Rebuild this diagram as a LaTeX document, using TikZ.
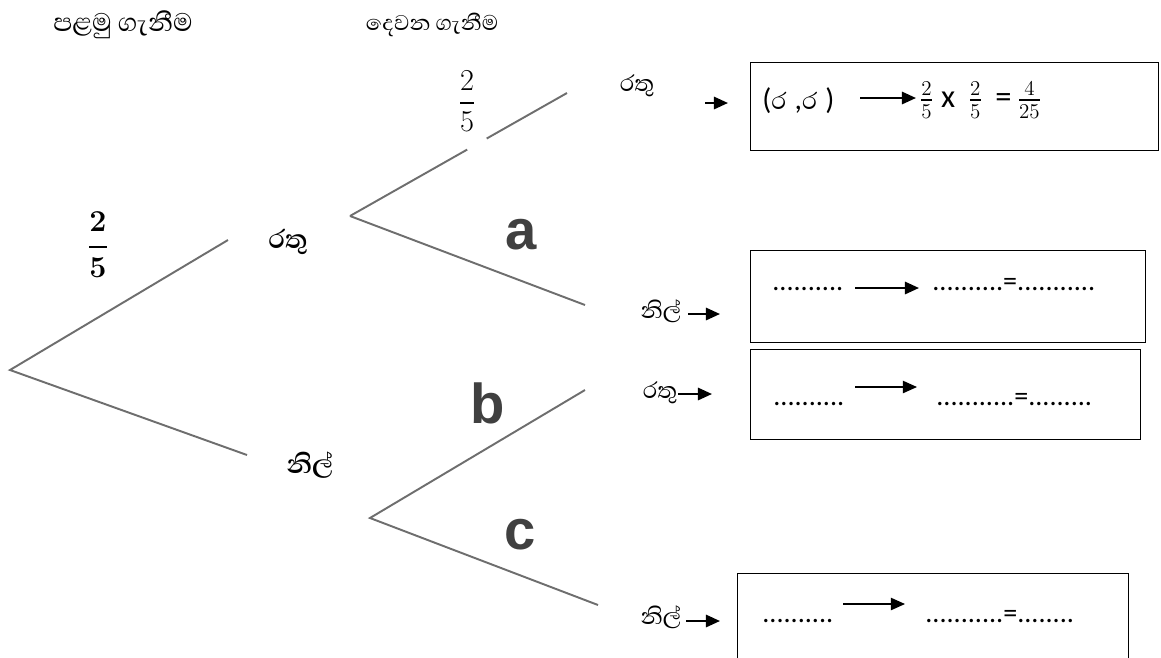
\documentclass[tikz,border=0pt]{standalone}
\usepackage{amsmath}
\usepackage{fontspec}
\setmainfont{Carlito}
\newfontfamily\sinhfont[Script=Sinhala]{Abhaya Libre}
\newfontfamily\arialfont{Liberation Sans}
\usetikzlibrary{arrows.meta,calc}

\begin{document}
\begin{tikzpicture}[x=0.02cm, y=-0.02cm, every node/.style={inner sep=0pt}]
\tikzset{branch/.style={draw=black!57, line width=1.1pt}}
\tikzset{hdr/.style={font=\sinhfont\fontsize{17}{19}\selectfont}}
\tikzset{pick/.style={font=\sinhfont\bfseries\fontsize{19}{21}\selectfont}}
\tikzset{lbl/.style={font=\sinhfont\fontsize{16.5}{18}\selectfont}}
\tikzset{bigltr/.style={font=\arialfont\bfseries\fontsize{32}{32}\selectfont, text=black!75}}
\tikzset{ansbox/.style={draw, line width=0.7pt, anchor=north west}}
\tikzset{boxtxt/.style={font=\fontsize{16}{18}\selectfont, anchor=base west}}
\tikzset{ptr/.style={-{Triangle[length=8pt,width=7pt]}, line width=1.2pt}}
\tikzset{thinptr/.style={-{Triangle[length=8pt,width=7pt]}, line width=0.7pt}}
\clip (0,0) rectangle (1161,657);

% tree
\coordinate (root) at (10,370);
\coordinate (r1) at (228,240);
\coordinate (n1) at (247,455);
\coordinate (r1fork) at (350,216);
\coordinate (rr) at (567,93);
\coordinate (rn) at (585,305);
\coordinate (n1fork) at (370,518);
\coordinate (nr) at (585,390);
\coordinate (nn) at (598,605);
\draw[branch] (r1) -- (root) -- (n1);
\draw[branch] (r1fork) -- ($(r1fork)!0.54!(rr)$);
\draw[branch] ($(r1fork)!0.63!(rr)$) -- (rr);
\draw[branch] (r1fork) -- (rn);
\draw[branch] (nr) -- (n1fork) -- (nn);

\node[hdr, font=\sinhfont\fontsize{18.5}{20}\selectfont] (first) at (123,25) {පළමු ගැනීම};
\node[hdr, font=\sinhfont\fontsize{15.5}{18}\selectfont] (second) at (432,25) {දෙවන ගැනීම};
\node[font=\boldmath\fontsize{19}{19}\selectfont] (p1) at (98,245) {$\displaystyle\frac{2}{5}$};
\node[font=\fontsize{16}{16}\selectfont] (p2) at (467,101) {$\displaystyle\frac{2}{5}$};
\node[pick] (red1) at (288,242) {රතු};
\node[pick] (blue1) at (310,465) {නිල්};
\node[bigltr] (qa) at (521,235) {a};
\node[bigltr] (qb) at (488,403) {b};
\node[bigltr] (qc) at (520,535) {c};

% outcomes
\node[lbl] (rr lbl) at (637,86) {රතු};
\node[lbl] (rn lbl) at (661,311) {නිල්};
\node[lbl] (nr lbl) at (660,393) {රතු};
\node[lbl] (nn lbl) at (661,617) {නිල්};
\coordinate (rr a) at (705,103);  \coordinate (rr b) at (728,103);
\coordinate (rn a) at (688,314);  \coordinate (rn b) at (720,314);
\coordinate (nr a) at (678,394);  \coordinate (nr b) at (712,394);
\coordinate (nn a) at (686,621);  \coordinate (nn b) at (720,621);
\draw[ptr] (rr a) -- (rr b);
\draw[ptr] (rn a) -- (rn b);
\draw[ptr] (nr a) -- (nr b);
\draw[ptr] (nn a) -- (nn b);

\node[ansbox, minimum width=8.16cm, minimum height=1.76cm] (box1) at (750,62) {};
\node[ansbox, minimum width=7.9cm, minimum height=1.84cm] (box2) at (750,250) {};
\node[ansbox, minimum width=7.8cm, minimum height=1.8cm] (box3) at (750,349) {};
\node[ansbox, minimum width=7.82cm, minimum height=2.2cm] (box4) at (737,573) {};

% box contents
\node[anchor=west, font=\fontsize{17}{19}\selectfont] (pair) at (762,101) {({\sinhfont ර}\;,{\sinhfont ර}\;)};
\coordinate (b1a) at (860,98); \coordinate (b1b) at (916,98);
\draw[ptr] (b1a) -- (b1b);
\node[anchor=west, font=\fontsize{18.5}{20}\selectfont] (calc1) at (919,100) {$\frac{2}{5}$ x\, $\frac{2}{5}$\, =\,$\frac{4}{25}$};

\node[boxtxt] (d2a) at (772,290) {..........};
\coordinate (b2a) at (855,288); \coordinate (b2b) at (919,288);
\draw[ptr] (b2a) -- (b2b);
\node[boxtxt] (d2b) at (932,290) {..........=...........};

\node[boxtxt] (d3a) at (773,405) {..........};
\coordinate (b3a) at (855,387); \coordinate (b3b) at (917,387);
\draw[thinptr] (b3a) -- (b3b);
\node[boxtxt] (d3b) at (936,405) {...........=.........};

\node[boxtxt] (d4a) at (762,622) {..........};
\coordinate (b4a) at (843,604); \coordinate (b4b) at (905,604);
\draw[thinptr] (b4a) -- (b4b);
\node[boxtxt] (d4b) at (925,622) {...........=........};
\end{tikzpicture}
\end{document}
